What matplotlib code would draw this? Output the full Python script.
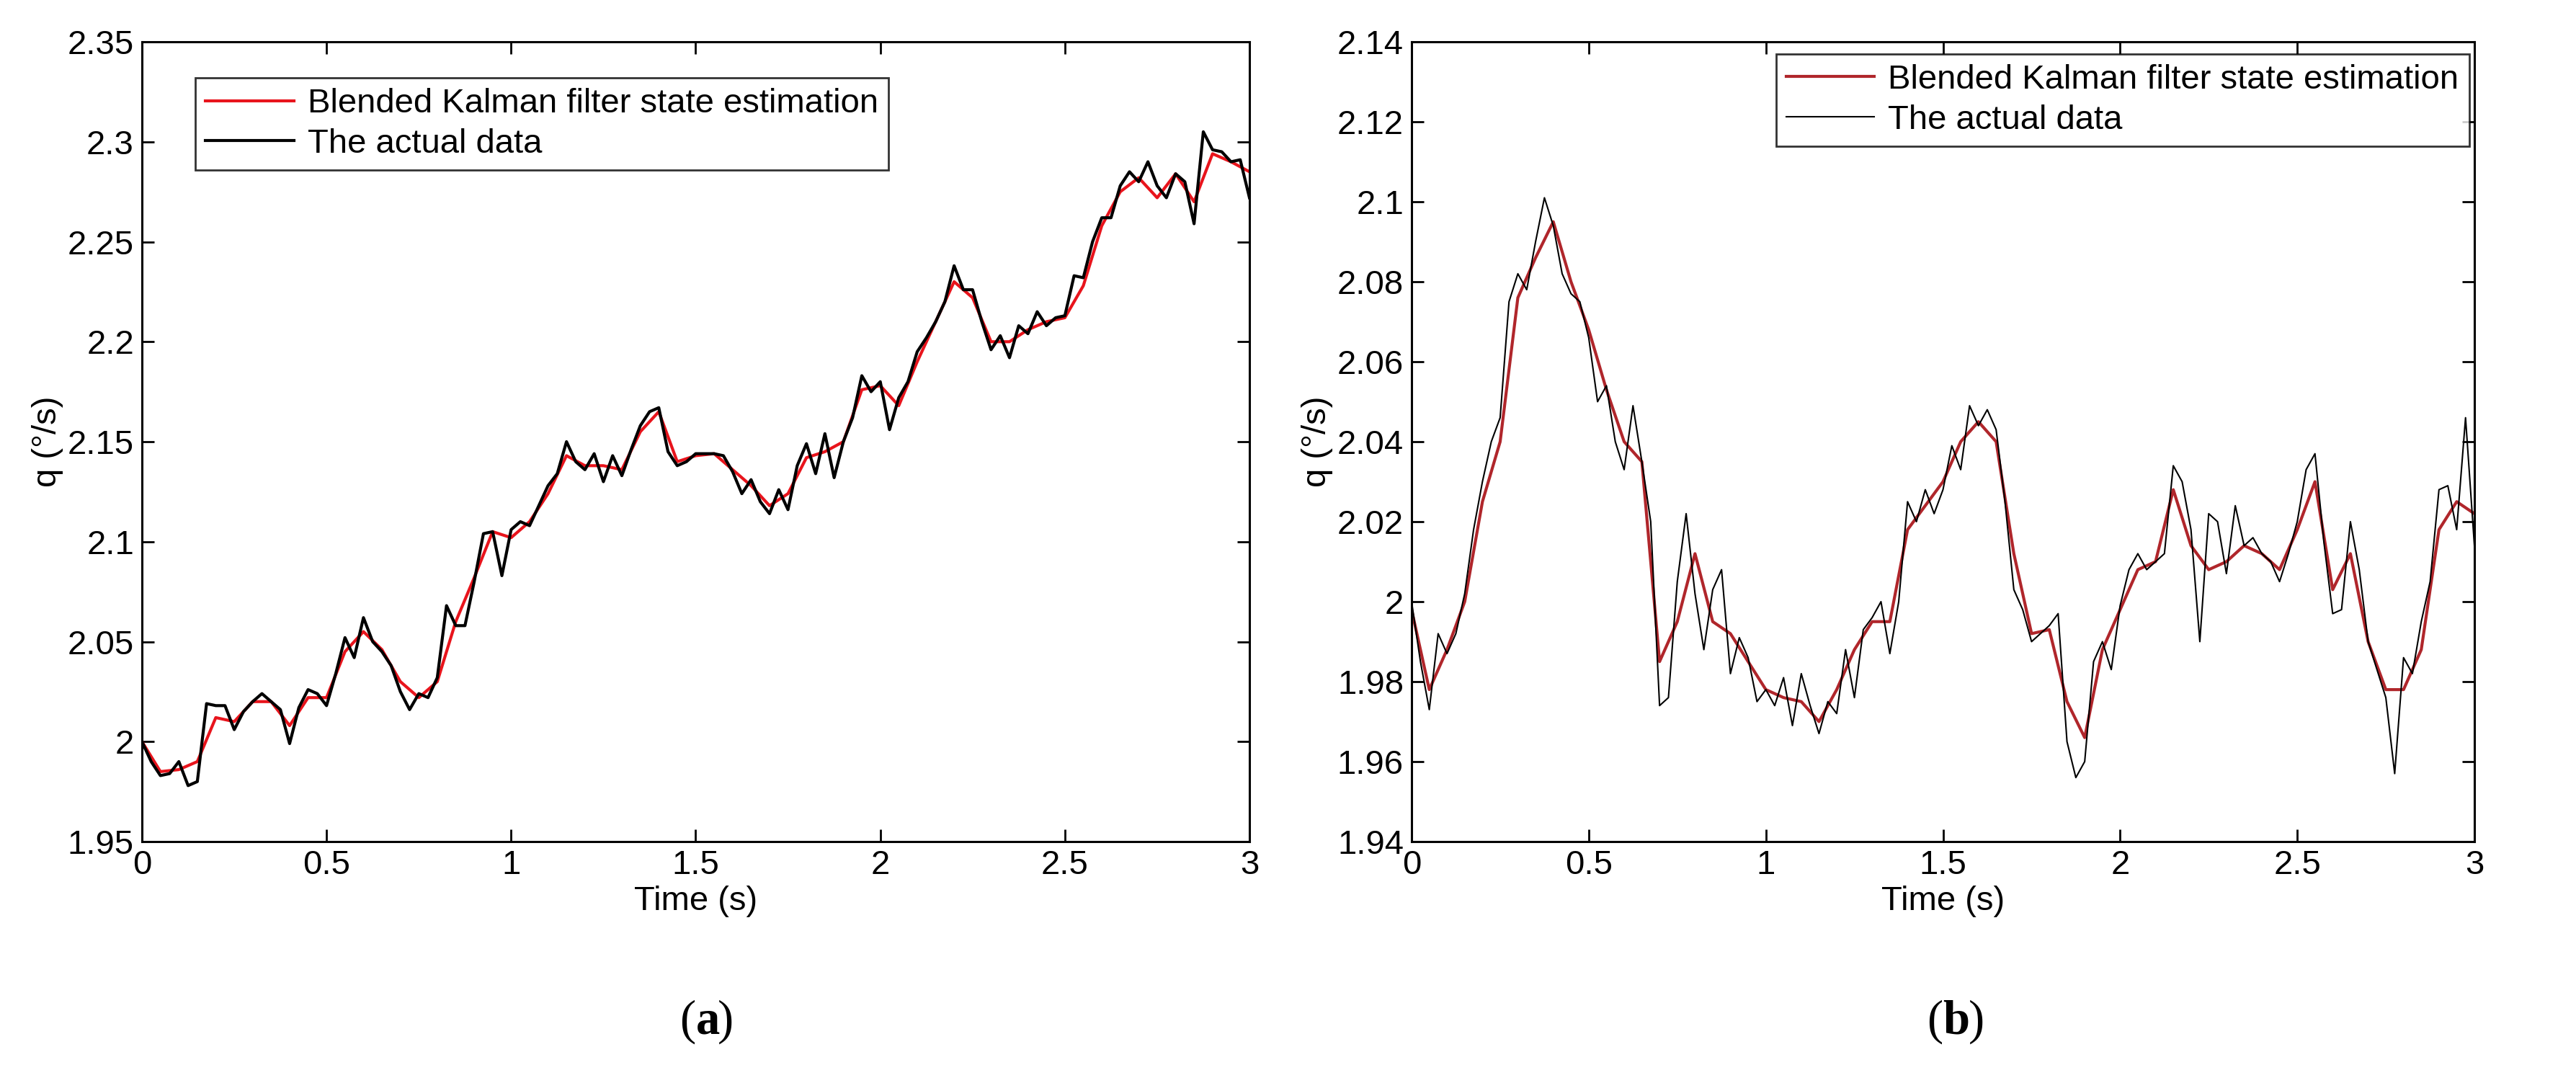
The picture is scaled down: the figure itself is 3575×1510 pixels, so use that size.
import numpy as np
import matplotlib.pyplot as plt

plt.rcParams['font.family'] = ['Liberation Sans', 'DejaVu Sans']

# panel (a): actual data, 0.025 s step
t_fine = np.linspace(0, 3, 121)
a_actual = [2.000, 1.990, 1.983, 1.984, 1.990, 1.978, 1.980, 2.019, 2.018, 2.018,
            2.006, 2.015, 2.020, 2.024, 2.020, 2.016, 1.999, 2.017, 2.026, 2.024,
            2.018, 2.034, 2.052, 2.042, 2.062, 2.050, 2.045, 2.038, 2.025, 2.016,
            2.024, 2.022, 2.032, 2.068, 2.058, 2.058, 2.080, 2.104, 2.105, 2.083,
            2.106, 2.110, 2.108, 2.118, 2.128, 2.134, 2.150, 2.140, 2.136, 2.144,
            2.130, 2.143, 2.133, 2.146, 2.158, 2.165, 2.167, 2.145, 2.138, 2.140,
            2.144, 2.144, 2.144, 2.143, 2.135, 2.124, 2.131, 2.120, 2.114, 2.126,
            2.116, 2.138, 2.149, 2.134, 2.154, 2.132, 2.150, 2.162, 2.183, 2.175,
            2.180, 2.156, 2.172, 2.180, 2.195, 2.202, 2.210, 2.220, 2.238, 2.226,
            2.226, 2.210, 2.196, 2.203, 2.192, 2.208, 2.204, 2.215, 2.208, 2.212,
            2.213, 2.233, 2.232, 2.250, 2.262, 2.262, 2.278, 2.285, 2.280, 2.290,
            2.278, 2.272, 2.284, 2.280, 2.259, 2.305, 2.296, 2.295, 2.290, 2.291,
            2.272]
# panel (a): estimate, 0.05 s step
t_coarse = np.linspace(0, 3, 61)
a_est = [2.000, 1.985, 1.986, 1.990, 2.012, 2.010, 2.020, 2.020, 2.008, 2.022,
         2.022, 2.045, 2.055, 2.046, 2.030, 2.022, 2.030, 2.060, 2.082, 2.105,
         2.102, 2.110, 2.124, 2.143, 2.138, 2.138, 2.136, 2.155, 2.165, 2.140,
         2.143, 2.144, 2.136, 2.128, 2.118, 2.124, 2.142, 2.145, 2.150, 2.176,
         2.178, 2.168, 2.190, 2.210, 2.230, 2.222, 2.200, 2.200, 2.206, 2.210,
         2.212, 2.228, 2.258, 2.275, 2.282, 2.272, 2.284, 2.270, 2.294, 2.290,
         2.285]

# panel (b)
b_actual = [2.000, 1.985, 1.973, 1.992, 1.987, 1.992, 2.002, 2.018, 2.030, 2.040,
            2.046, 2.075, 2.082, 2.078, 2.090, 2.101, 2.094, 2.082, 2.077, 2.075,
            2.066, 2.050, 2.054, 2.040, 2.033, 2.049, 2.035, 2.020, 1.974, 1.976,
            2.005, 2.022, 2.002, 1.988, 2.003, 2.008, 1.982, 1.991, 1.986, 1.975,
            1.978, 1.974, 1.981, 1.969, 1.982, 1.974, 1.967, 1.975, 1.972, 1.988,
            1.976, 1.993, 1.996, 2.000, 1.987, 2.000, 2.025, 2.020, 2.028, 2.022,
            2.028, 2.039, 2.033, 2.049, 2.044, 2.048, 2.043, 2.025, 2.003, 1.998,
            1.990, 1.992, 1.994, 1.997, 1.965, 1.956, 1.960, 1.985, 1.990, 1.983,
            1.999, 2.008, 2.012, 2.008, 2.010, 2.012, 2.034, 2.030, 2.018, 1.990,
            2.022, 2.020, 2.007, 2.024, 2.014, 2.016, 2.012, 2.010, 2.005, 2.012,
            2.020, 2.033, 2.037, 2.015, 1.997, 1.998, 2.020, 2.008, 1.990, 1.983,
            1.976, 1.957, 1.986, 1.982, 1.995, 2.005, 2.028, 2.029, 2.018, 2.046,
            2.014]
b_est = [1.998, 1.978, 1.988, 2.000, 2.025, 2.040, 2.076, 2.086, 2.095, 2.080,
         2.068, 2.053, 2.040, 2.035, 1.985, 1.995, 2.012, 1.995, 1.992, 1.985,
         1.978, 1.976, 1.975, 1.970, 1.978, 1.988, 1.995, 1.995, 2.018, 2.024,
         2.030, 2.040, 2.045, 2.040, 2.012, 1.992, 1.993, 1.975, 1.966, 1.988,
         1.998, 2.008, 2.010, 2.028, 2.014, 2.008, 2.010, 2.014, 2.012, 2.008,
         2.018, 2.030, 2.003, 2.012, 1.990, 1.978, 1.978, 1.988, 2.018, 2.025,
         2.022]

fig = plt.figure(figsize=(35.75, 15.1), dpi=100)
ax1 = fig.add_axes([197/3575, 1-1168/1510, 1537/3575, 1110/1510])
ax2 = fig.add_axes([1959/3575, 1-1168/1510, 1475/3575, 1110/1510])

FS = 34

ax1.plot(t_coarse, a_est, color='#e8141c', lw=3, label='Blended Kalman filter state estimation')
ax1.plot(t_fine, a_actual, color='black', lw=3, label='The actual data')
ax1.set_ylim(1.95, 2.35)
ax1.set_yticks(np.arange(1.95, 2.351, 0.05))
ax1.set_yticklabels(['1.95', '2', '2.05', '2.1', '2.15', '2.2', '2.25', '2.3', '2.35'])
leg1 = ax1.legend(loc='upper left', bbox_to_anchor=(0.048, 0.955), fontsize=FS, frameon=True,
                  fancybox=False, edgecolor='black', handlelength=2.6, borderaxespad=0,
                  borderpad=0.3, labelspacing=0.25, handletextpad=0.4)

ax2.plot(t_coarse, b_est, color='#b0262b', lw=3, label='Blended Kalman filter state estimation')
ax2.plot(t_fine, b_actual, color='black', lw=1.5, label='The actual data')
ax2.set_ylim(1.94, 2.14)
ax2.set_yticks(np.arange(1.94, 2.141, 0.02))
ax2.set_yticklabels(['1.94', '1.96', '1.98', '2', '2.02', '2.04', '2.06', '2.08', '2.1', '2.12', '2.14'])
leg2 = ax2.legend(loc='upper right', bbox_to_anchor=(0.995, 0.985), fontsize=FS, frameon=True,
                  fancybox=False, edgecolor='black', handlelength=2.6, borderaxespad=0,
                  borderpad=0.3, labelspacing=0.25, handletextpad=0.4)
for leg in (leg1, leg2):
    leg.get_frame().set_linewidth(2)

for ax, cap in [(ax1, 'a'), (ax2, 'b')]:
    ax.set_xlim(0, 3)
    ax.set_xticks([0, 0.5, 1, 1.5, 2, 2.5, 3])
    ax.set_xticklabels(['0', '0.5', '1', '1.5', '2', '2.5', '3'])
    ax.tick_params(direction='in', top=True, right=True, labelsize=FS, length=12, width=2, pad=8)
    for s in ax.spines.values():
        s.set_linewidth(2.2)
    ax.set_xlabel('Time (s)', fontsize=FS, labelpad=4)
    ax.set_ylabel('q (°/s)', fontsize=FS, labelpad=4)
    ax.text(0.5, -0.225, '(', transform=ax.transAxes, ha='right', va='center',
            fontsize=48, family='Liberation Serif')
    ax.text(0.5, -0.225, cap, transform=ax.transAxes, ha='left', va='center',
            fontsize=48, family='Liberation Serif', fontweight='bold')
    ax.text(0.5 + (0.02 if cap == 'a' else 0.024), -0.225, ')', transform=ax.transAxes,
            ha='left', va='center', fontsize=48, family='Liberation Serif')

fig.savefig('out.png', dpi=100)
